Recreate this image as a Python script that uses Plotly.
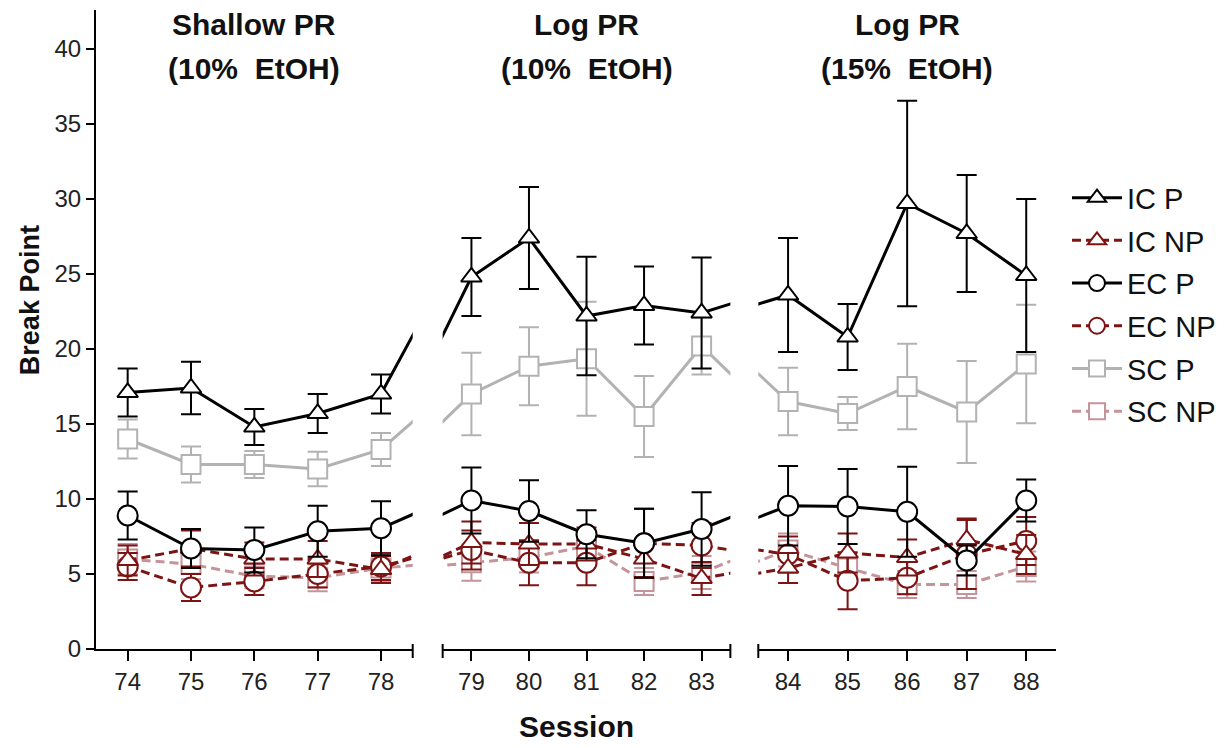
import plotly.graph_objects as go

sessions = list(range(74, 89))

ic_p = [17.1, 17.4, 14.8, 15.7, 17.0, 24.8, 27.4, 22.2, 22.9, 22.4, 23.6, 20.8, 29.7, 27.7, 24.9]
ic_p_err = [1.6, 1.75, 1.2, 1.3, 1.3, 2.6, 3.4, 3.95, 2.6, 3.7, 3.8, 2.2, 6.85, 3.9, 5.1]

ic_np = [5.9, 6.7, 6.0, 6.0, 5.3, 7.1, 7.0, 7.0, 6.0, 4.7, 5.4, 6.4, 6.1, 7.3, 6.3]
ic_np_err = [1.0, 1.2, 1.1, 1.2, 0.9, 1.4, 1.4, 1.1, 1.2, 1.1, 1.0, 1.3, 1.2, 1.4, 1.3]

ec_p = [8.9, 6.7, 6.6, 7.85, 8.05, 9.9, 9.2, 7.65, 7.05, 8.0, 9.55, 9.5, 9.15, 5.9, 9.9]
ec_p_err = [1.6, 1.3, 1.5, 1.7, 1.8, 2.2, 2.05, 1.6, 2.3, 2.45, 2.65, 2.5, 3.0, 1.0, 1.4]

ec_np = [5.5, 4.1, 4.5, 5.0, 5.5, 6.6, 5.75, 5.75, 7.05, 6.9, 6.3, 4.55, 4.75, 6.3, 7.2]
ec_np_err = [0.9, 0.9, 0.9, 0.9, 0.9, 1.3, 1.5, 1.5, 2.3, 1.5, 1.2, 1.9, 1.1, 2.3, 1.6]

sc_p = [14.0, 12.3, 12.3, 12.0, 13.3, 17.0, 18.85, 19.35, 15.5, 20.2, 16.5, 15.7, 17.5, 15.8, 19.0]
sc_p_err = [1.3, 1.2, 0.9, 1.15, 1.1, 2.75, 2.6, 3.8, 2.7, 1.9, 2.25, 1.1, 2.85, 3.4, 3.95]

sc_np = [6.0, 5.65, 4.85, 4.75, 5.4, 5.75, 6.1, 6.85, 4.5, 5.1, 6.6, 5.4, 4.3, 4.3, 5.5]
sc_np_err = [1.0, 1.0, 0.8, 0.9, 0.9, 1.2, 1.0, 1.0, 0.9, 1.1, 1.1, 1.0, 0.9, 0.9, 1.0]

panel_titles = [("Shallow PR", "(10%\u00a0 EtOH)"), ("Log PR", "(10%\u00a0 EtOH)"), ("Log PR", "(15%\u00a0 EtOH)")]
panel_ranges = [(73.5, 78.5), (78.5, 83.5), (83.5, 88.5)]
y_ticks = [0, 5, 10, 15, 20, 25, 30, 35, 40]

DARK_RED = "#7d1414"
GRAY = "#b2b2b2"
PINK = "#c4949b"
FONT = "Liberation Sans, Arial, sans-serif"

# (name, values, errors, color, dash, symbol, size, rank)
series = [
    ("SC NP", sc_np, sc_np_err, PINK, "9px,5px", "square", 19, 6),
    ("SC P", sc_p, sc_p_err, GRAY, "solid", "square", 19, 5),
    ("EC NP", ec_np, ec_np_err, DARK_RED, "9px,5px", "circle", 20, 4),
    ("IC NP", ic_np, ic_np_err, DARK_RED, "9px,5px", "triangle-up", 18, 2),
    ("EC P", ec_p, ec_p_err, "black", "solid", "circle", 20, 3),
    ("IC P", ic_p, ic_p_err, "black", "solid", "triangle-up", 18, 1),
]

fig = go.Figure()
xnames = ["x", "x2", "x3"]
for name, vals, errs, color, dash, symbol, size, rank in series:
    for i, xa in enumerate(xnames):
        fig.add_trace(go.Scatter(
            x=sessions, y=vals, xaxis=xa, yaxis="y",
            mode="lines+markers", name=name,
            legendgroup=name, legendrank=rank, showlegend=(i == 0),
            line=dict(color=color, width=3, dash=dash),
            marker=dict(symbol=symbol, size=size, color="white",
                        line=dict(color=color, width=2)),
            error_y=dict(type="data", array=errs, visible=True, color=color,
                         thickness=2, width=10),
        ))

domains = [[0.0, 0.3299], [0.3611, 0.6608], [0.6899, 1.0]]
axis_common = dict(showline=True, linecolor="black", linewidth=2, ticks="outside",
                   ticklen=10, tickwidth=2, tickcolor="black", showgrid=False,
                   zeroline=False, tickmode="linear", dtick=1,
                   tickfont=dict(family=FONT, size=24, color="#222"), anchor="y")
for i, key in enumerate(["xaxis", "xaxis2", "xaxis3"]):
    fig.layout[key] = dict(domain=domains[i], range=list(panel_ranges[i]), **axis_common)

fig.update_layout(
    yaxis=dict(range=[0, 42.6], showline=True, linecolor="black", linewidth=2,
               ticks="outside", ticklen=8, tickwidth=2, tickcolor="black",
               tickvals=y_ticks, showgrid=False, zeroline=False, anchor="x",
               tickfont=dict(family=FONT, size=24, color="#222")),
    width=1230, height=748,
    margin=dict(l=96, r=173, t=10, b=99),
    paper_bgcolor="white", plot_bgcolor="white",
    font=dict(family=FONT, color="#111"),
    legend=dict(x=1.0104, xanchor="left", y=0.746, yanchor="top",
                font=dict(family=FONT, size=29, color="#111"),
                itemwidth=50, tracegroupgap=2, bgcolor="rgba(0,0,0,0)"),
    showlegend=True,
)

# axis-break end caps
caps = [("x", 1), ("x2", 0), ("x2", 1), ("x3", 0)]
for xa, pos in caps:
    fig.add_shape(type="line", xref=f"{xa} domain", yref="paper",
                  x0=pos, x1=pos, y0=-9 / 639, y1=5 / 639,
                  line=dict(color="black", width=2))

for i, (l1, l2) in enumerate(panel_titles):
    xr = f"{xnames[i]} domain"
    fig.add_annotation(text=f"<b>{l1}</b>", xref=xr, yref="paper", x=0.5, y=0.978,
                       xanchor="center", yanchor="middle", showarrow=False,
                       font=dict(family=FONT, size=30, color="#111"))
    fig.add_annotation(text=f"<b>{l2}</b>", xref=xr, yref="paper", x=0.5, y=0.909,
                       xanchor="center", yanchor="middle", showarrow=False,
                       font=dict(family=FONT, size=30, color="#111"))

fig.add_annotation(text="<b>Break Point</b>", xref="paper", yref="paper",
                   x=-0.0687, y=0.546, textangle=-90, showarrow=False,
                   xanchor="center", yanchor="middle",
                   font=dict(family=FONT, size=27, color="#111"))
fig.add_annotation(text="<b>Session</b>", xref="paper", yref="paper",
                   x=0.5005, y=-0.122, showarrow=False,
                   xanchor="center", yanchor="middle",
                   font=dict(family=FONT, size=30, color="#111"))

fig.write_html("out.html")
